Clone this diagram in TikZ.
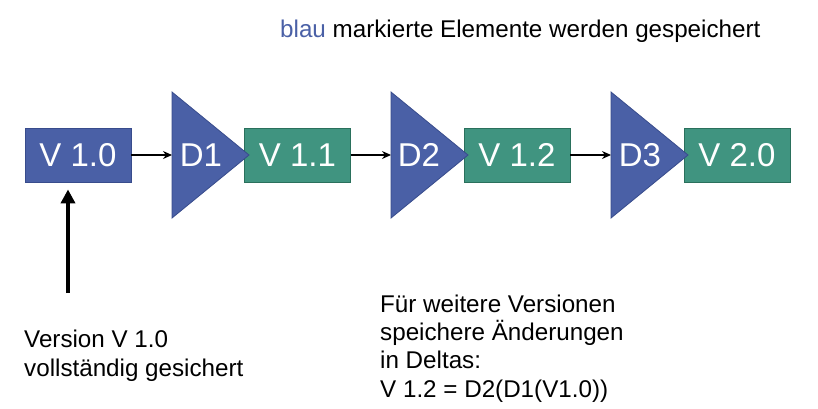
\documentclass[tikz,border=0pt]{standalone}
\usepackage{fontspec}
\setmainfont{Liberation Sans}
\usetikzlibrary{arrows.meta}
\definecolor{blueF}{RGB}{74,96,166}
\definecolor{blueD}{RGB}{56,76,140}
\definecolor{greenF}{RGB}{64,148,128}
\definecolor{greenD}{RGB}{42,112,92}
\begin{document}
\begin{tikzpicture}[x=1pt,y=-1pt,
  boxstyle/.style={line width=0.8pt, minimum width=106pt, minimum height=54pt, inner sep=0pt, text=white, font=\fontsize{33}{36}\selectfont},
  fullver/.style={boxstyle, draw=blueD, fill=blueF},
  ver/.style={boxstyle, draw=greenD, fill=greenF},
  deltashape/.style={draw=blueD, fill=blueF, line width=0.8pt, line join=miter},
  dlabel/.style={inner sep=0pt, text=white, font=\fontsize{33}{36}\selectfont},
  link/.style={line width=1.3pt, -{Stealth[length=9pt,width=8pt]}},
  bigarrow/.style={line width=4.5pt, -{Triangle[length=14pt,width=14pt]}},
  note/.style={inner sep=0pt, align=left, font=\fontsize{24.2}{28.2}\selectfont}
]
\useasboundingbox (0,0) rectangle (818,408);

% title
\node[note, anchor=base west] (title) at (280,37) {\textcolor{blueF}{blau} markierte Elemente werden gespeichert};

% version boxes
\node[fullver] (V10) at (78,155) {V 1.0};
\node[ver] (V11) at (297.5,155) {V 1.1};
\node[ver] (V12) at (517,155) {V 1.2};
\node[ver] (V20) at (737,155) {V 2.0};

% deltas
\draw[deltashape] (172,92) -- (249,155) -- (172,218) -- cycle;
\coordinate (D1in) at (172,155);
\node[dlabel] (D1) at (201,155) {D1};

\draw[deltashape] (391,92) -- (468,155) -- (391,218) -- cycle;
\coordinate (D2in) at (391,155);
\node[dlabel] (D2) at (419,155) {D2};

\draw[deltashape] (611,92) -- (688,155) -- (611,218) -- cycle;
\coordinate (D3in) at (611,155);
\node[dlabel] (D3) at (640,155) {D3};

% connectors
\draw[link] (V10.east) -- (D1in);
\draw[link] (V11.east) -- (D2in);
\draw[link] (V12.east) -- (D3in);

% pointer arrow
\coordinate (ptr) at (68,293);
\draw[bigarrow, shorten >=7pt] (ptr) -- (ptr |- V10.south);

% notes (base anchor = baseline of last line)
\node[note, anchor=base west] (left) at (24,376) {Version V 1.0\\vollständig gesichert};
\node[note, anchor=base west] (right) at (380,397) {Für weitere Versionen\\speichere Änderungen\\in Deltas:\\V 1.2 = D2(D1(V1.0))};
\end{tikzpicture}
\end{document}
